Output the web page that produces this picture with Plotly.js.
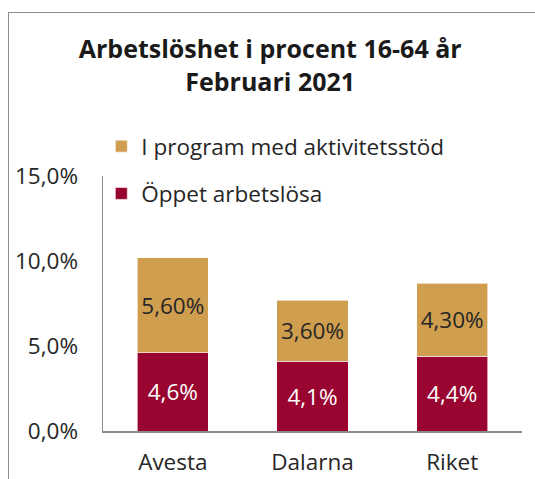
<!DOCTYPE html>
<html>
<head>
<meta charset="utf-8">
<script src="https://cdn.plot.ly/plotly-3.0.1.min.js"></script>
<style>
html,body{margin:0;padding:0;width:535px;height:479px;overflow:hidden;background:#fff;}
#frame{position:absolute;left:8px;top:12px;width:600px;height:600px;border:1.5px solid #8c8c8c;box-sizing:border-box;}
#chart{position:absolute;left:0;top:0;width:535px;height:479px;}
</style>
</head>
<body>
<div id="frame"></div>
<div id="chart"></div>
<script>
var categories = ["Avesta", "Dalarna", "Riket"];
var oppetArbetslosa = [4.6, 4.1, 4.4];
var iProgram = [5.6, 3.6, 4.3];
var oppetLabels = ["4,6%", "4,1%", "4,4%"];
var programLabels = ["5,60%", "3,60%", "4,30%"];
var yTickVals = [0, 5, 10, 15];
var yTickText = ["0,0%", "5,0%", "10,0%", "15,0%"];

var FONT = "Open Sans, Noto Sans, sans-serif";
var red = "#990530";
var tan = "#D09E4F";
var FS = 22.5;

var traces = [
  {
    type: "bar", name: "Öppet arbetslösa", x: categories, y: oppetArbetslosa,
    text: oppetLabels, textposition: "inside", insidetextanchor: "middle",
    textfont: {color: "#ffffff", size: FS, family: FONT},
    marker: {color: red, line: {color: "rgba(255,255,255,0.6)", width: 1}},
    legendgroup: "a", legendrank: 2, hoverinfo: "none"
  },
  {
    type: "bar", name: "I program med aktivitetsstöd", x: categories, y: iProgram,
    text: programLabels, textposition: "inside", insidetextanchor: "middle",
    textfont: {color: "#262626", size: FS, family: FONT},
    marker: {color: tan, line: {color: "rgba(255,255,255,0.6)", width: 1}},
    legendgroup: "b", legendrank: 1, hoverinfo: "none"
  }
];

var layout = {
  width: 535, height: 479,
  margin: {l: 103, r: 13, t: 176, b: 48},
  paper_bgcolor: "rgba(0,0,0,0)", plot_bgcolor: "rgba(0,0,0,0)",
  barmode: "stack", bargap: 0.49,
  font: {family: FONT, color: "#333333", size: FS},
  title: {
    text: "<b>Arbetslöshet i procent 16-64 år<br>Februari 2021</b>",
    font: {family: FONT, size: 25, color: "#1a1a1a"},
    x: 0.505, xanchor: "center", y: 0.878, yanchor: "top"
  },
  xaxis: {
    showline: true, linecolor: "#8c8c8c", linewidth: 2,
    ticks: "", tickfont: {size: FS, color: "#262626"}, ticklabelstandoff: 10,
    fixedrange: true
  },
  yaxis: {
    range: [0, 15], tickvals: yTickVals, ticktext: yTickText,
    showline: true, linecolor: "#8c8c8c", linewidth: 1.5,
    showgrid: false, zeroline: false, ticks: "",
    tickfont: {size: FS, color: "#262626"}, ticklabelstandoff: 19,
    fixedrange: true
  },
  showlegend: true,
  legend: {
    x: -0.004, xanchor: "left", y: 1.2, yanchor: "top", traceorder: "grouped",
    font: {size: FS, color: "#262626"}, tracegroupgap: 15,
    bgcolor: "rgba(0,0,0,0)", itemwidth: 30
  }
};

Plotly.newPlot("chart", traces, layout, {displayModeBar: false, staticPlot: true});
</script>
</body>
</html>
